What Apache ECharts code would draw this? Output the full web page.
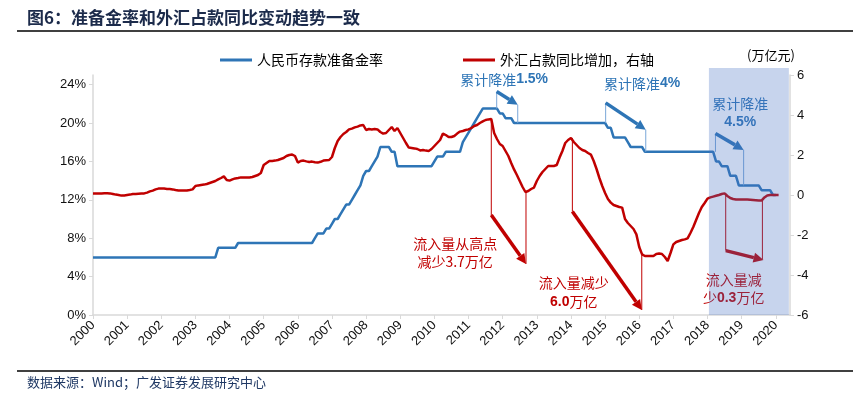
<!DOCTYPE html>
<html>
<head>
	<meta charset="utf-8">
	<title>准备金率和外汇占款</title>
	<script src="https://cdn.jsdelivr.net/npm/echarts@6/dist/echarts.min.js"></script>
	<style>
		html, body { margin: 0; padding: 0; background: #fff; }
		#main { width: 866px; height: 396px; }
	</style>
</head>
<body>
	<div id="main"></div>
<script type="text/javascript">
	// 横轴刻度（年），月度数据从2000年1月开始
	var years = ['2000', '2001', '2002', '2003', '2004', '2005', '2006', '2007', '2008', '2009', '2010',
		'2011', '2012', '2013', '2014', '2015', '2016', '2017', '2018', '2019', '2020'];
	var leftTicks = [0, 4, 8, 12, 16, 20, 24];

	// 人民币存款准备金率（%），左轴
	var rrr = [
		6, 6, 6, 6, 6, 6, 6, 6, 6, 6, 6, 6,
		6, 6, 6, 6, 6, 6, 6, 6, 6, 6, 6, 6,
		6, 6, 6, 6, 6, 6, 6, 6, 6, 6, 6, 6,
		6, 6, 6, 6, 6, 6, 6, 6, 7, 7, 7, 7,
		7, 7, 7, 7.5, 7.5, 7.5, 7.5, 7.5, 7.5, 7.5, 7.5, 7.5,
		7.5, 7.5, 7.5, 7.5, 7.5, 7.5, 7.5, 7.5, 7.5, 7.5, 7.5, 7.5,
		7.5, 7.5, 7.5, 7.5, 7.5, 7.5, 8, 8.5, 8.5, 8.5, 9, 9,
		9.5, 10, 10, 10.5, 11, 11.5, 11.5, 12, 12.5, 13, 13.5, 14.5,
		15, 15, 15.5, 16, 16.5, 17.5, 17.5, 17.5, 17.5, 17, 17, 15.5,
		15.5, 15.5, 15.5, 15.5, 15.5, 15.5, 15.5, 15.5, 15.5, 15.5, 15.5, 15.5,
		16, 16.5, 16.5, 16.5, 17, 17, 17, 17, 17, 17, 18, 18.5,
		19, 19.5, 20, 20.5, 21, 21.5, 21.5, 21.5, 21.5, 21.5, 21.5, 21,
		21, 20.5, 20.5, 20.5, 20, 20, 20, 20, 20, 20, 20, 20,
		20, 20, 20, 20, 20, 20, 20, 20, 20, 20, 20, 20,
		20, 20, 20, 20, 20, 20, 20, 20, 20, 20, 20, 20,
		20, 19.5, 19.5, 18.5, 18.5, 18.5, 18.5, 18.5, 18, 17.5, 17.5, 17.5,
		17.5, 17.5, 17, 17, 17, 17, 17, 17, 17, 17, 17, 17,
		17, 17, 17, 17, 17, 17, 17, 17, 17, 17, 17, 17,
		17, 17, 17, 16, 16, 15.5, 15.5, 15.5, 14.5, 14.5, 14.5, 13.5,
		13.5, 13.5, 13.5, 13.5, 13.5, 13.5, 13.5, 13, 13, 13, 13, 12.5,
		12.5
	];

	// 外汇占款同比增加（万亿元），右轴
	var fxChange = [
		0.08, 0.08, 0.08, 0.08, 0.09, 0.09, 0.08, 0.05, 0.02, 0.0, -0.03, -0.02,
		0.0, 0.02, 0.05, 0.05, 0.06, 0.07, 0.08, 0.12, 0.18, 0.22, 0.28, 0.32,
		0.33, 0.32, 0.3, 0.3, 0.28, 0.25, 0.23, 0.23, 0.22, 0.23, 0.25, 0.28,
		0.45, 0.48, 0.5, 0.52, 0.55, 0.6, 0.65, 0.7, 0.78, 0.85, 0.93, 0.75,
		0.72, 0.78, 0.83, 0.85, 0.88, 0.88, 0.87, 0.88, 0.9, 0.95, 1.0, 1.1,
		1.5, 1.6, 1.7, 1.7, 1.72, 1.75, 1.8, 1.85, 1.95, 2.0, 2.02, 1.95,
		1.62, 1.7, 1.72, 1.68, 1.65, 1.67, 1.64, 1.62, 1.66, 1.72, 1.74, 1.75,
		1.9, 2.35, 2.7, 2.9, 3.05, 3.15, 3.28, 3.32, 3.38, 3.42, 3.48, 3.5,
		3.25, 3.3, 3.28, 3.3, 3.28, 3.15, 3.07, 3.1, 3.25, 3.4, 3.2, 3.35,
		3.1, 2.85, 2.6, 2.37, 2.35, 2.33, 2.3, 2.23, 2.25, 2.22, 2.2, 2.3,
		2.45, 2.6, 2.75, 3.07, 3.0, 2.9, 2.9, 2.95, 3.07, 3.17, 3.2, 3.25,
		3.28, 3.35, 3.45, 3.5, 3.6, 3.68, 3.75, 3.78, 3.8, 3.1, 2.8, 2.55,
		2.45, 2.2, 1.95, 1.6, 1.28, 1.0, 0.7, 0.4, 0.15, 0.2, 0.3, 0.37,
		0.7, 0.95, 1.15, 1.3, 1.45, 1.45, 1.45, 1.5, 1.87, 2.2, 2.6, 2.75,
		2.85, 2.65, 2.5, 2.35, 2.25, 2.2, 2.1, 2.02, 1.7, 1.3, 0.85, 0.45,
		0.1, -0.2, -0.38, -0.5, -0.55, -0.6, -0.63, -1.2, -1.4, -1.55, -1.7, -1.97,
		-2.6, -2.97, -3.05, -3.05, -3.05, -3.05, -2.95, -2.93, -2.95, -3.1, -3.3, -2.9,
		-2.47, -2.35, -2.3, -2.25, -2.22, -2.17, -1.9, -1.6, -1.25, -0.9, -0.6, -0.4,
		-0.18, -0.12, -0.08, -0.04, 0.0, 0.05, 0.08, -0.05, -0.15, -0.2, -0.22, -0.22,
		-0.22, -0.22, -0.23, -0.24, -0.25, -0.26, -0.27, -0.28, -0.12, -0.02, 0.0, 0.0,
		0.0, 0.0
	];

	var BLUE = '#2e75b6';
	var RED = '#c00000';
	var CJK = '"Noto Sans CJK SC", sans-serif';
	var NUM = '"Liberation Sans", Arial, sans-serif';

	var xTicks = years.map(function(y, i) { return i * 12; });

	var chart = echarts.init(document.getElementById('main'));

	var option = {
		animation: false,
		backgroundColor: '#fff',
		grid: { left: 93, right: 76, top: 75, bottom: 81 },
		legend: {
			left: 215,
			top: 48,
			icon: 'rect',
			itemWidth: 32,
			itemHeight: 3,
			itemGap: 80,
			textStyle: { fontSize: 14, color: '#000', fontFamily: CJK, padding: [0, 0, 0, 0] },
			data: ['人民币存款准备金率', '外汇占款同比增加，右轴']
		},
		xAxis: {
			type: 'value',
			min: 0,
			max: 245,
			interval: 12,
			splitLine: { show: false },
			axisLine: { lineStyle: { color: '#d9d9d9', width: 1.5 } },
			axisTick: { length: 4, customValues: xTicks, lineStyle: { color: '#d9d9d9' } },
			axisLabel: {
				customValues: xTicks,
				rotate: 45,
				margin: 8,
				fontSize: 13,
				color: '#111',
				fontFamily: NUM,
				formatter: function(v) {
					return years[v / 12] || '';
				}
			}
		},
		yAxis: [{
			type: 'value',
			position: 'left',
			min: 0,
			max: 25,
			interval: 4,
			splitLine: { show: false },
			axisLine: { show: true, lineStyle: { color: '#d9d9d9', width: 1.5 } },
			axisTick: { show: true, length: 4, customValues: leftTicks, lineStyle: { color: '#d9d9d9' } },
			axisLabel: {
				customValues: leftTicks,
				margin: 7,
				fontSize: 13,
				color: '#111',
				fontFamily: NUM,
				formatter: function(v) {
					return v > 24 ? '' : v + '%';
				}
			}
		}, {
			type: 'value',
			position: 'right',
			min: -6,
			max: 6,
			interval: 2,
			splitLine: { show: false },
			axisLine: { show: true, lineStyle: { color: '#d9d9d9', width: 1.5 } },
			axisTick: { show: true, length: 4, lineStyle: { color: '#d9d9d9' } },
			axisLabel: { margin: 7, fontSize: 13, color: '#111', fontFamily: NUM }
		}],
		series: [{
			name: '人民币存款准备金率',
			type: 'line',
			yAxisIndex: 0,
			symbol: 'none',
			lineStyle: { color: BLUE, width: 2.5 },
			itemStyle: { color: BLUE },
			data: rrr.map(function(v, i) { return [i, v]; })
		}, {
			name: '外汇占款同比增加，右轴',
			type: 'line',
			yAxisIndex: 1,
			symbol: 'none',
			lineStyle: { color: RED, width: 2.5 },
			itemStyle: { color: RED },
			data: fxChange.map(function(v, i) { return [i, v]; })
		}]
	};
	chart.setOption(option);

	// 标注：[轴, 月序号, 值...]，坐标都按数据坐标换算
	var thinLines = [
		[0, 141.9, 23.27, 21.5], [0, 149.3, 21.9, 20], [0, 180.2, 22.1, 20], [0, 194.3, 19.3, 17],
		[0, 218.8, 18.9, 17], [0, 228.7, 17.2, 13.5],
		[1, 140, 3.8, -1.0], [1, 152.2, 0.15, -3.45], [1, 168.5, 2.85, -0.83], [1, 192.9, -2.97, -5.75],
		[1, 222.4, 0.08, -2.78], [1, 235.3, -0.28, -3.2]
	];
	var arrows = [
		[0, 141.9, 23.27, 149.3, 21.9], [0, 180.2, 22.1, 194.3, 19.3], [0, 218.8, 18.9, 228.7, 17.2],
		[1, 140, -1.0, 152.2, -3.45], [1, 168.5, -0.83, 192.9, -5.75], [1, 222.4, -2.78, 235.7, -3.25]
	];
	var notes = [
		[0, 144.5, 24.52, '累计降准{b|1.5%}', BLUE],
		[0, 193.0, 24.1, '累计降准{b|4%}', BLUE],
		[0, 227.5, 22.0, '累计降准', BLUE],
		[0, 227.5, 20.04, '{b|4.5%}', BLUE],
		[1, 127.3, -2.45, '流入量从高点', RED],
		[1, 127.3, -3.35, '减少3.7万亿', RED],
		[1, 169, -4.4, '流入量减少', RED],
		[1, 169, -5.35, '{b|6.0}万亿', RED],
		[1, 225.2, -4.25, '流入量减', RED],
		[1, 225.2, -5.15, '少{b|0.3}万亿', RED]
	];

	function pt(axis, x, y) {
		return chart.convertToPixel({ xAxisIndex: 0, yAxisIndex: axis }, [x, y]);
	}

	var g = [];
	thinLines.forEach(function(d) {
		var a = pt(d[0], d[1], d[2]), b = pt(d[0], d[1], d[3]);
		g.push({
			type: 'line', z: 20, silent: true,
			shape: { x1: a[0], y1: a[1], x2: b[0], y2: b[1] },
			style: { stroke: d[0] === 0 ? '#7aa7d8' : RED, lineWidth: 1 }
		});
	});
	arrows.forEach(function(d) {
		var p0 = pt(d[0], d[1], d[2]), p1 = pt(d[0], d[3], d[4]);
		var color = d[0] === 0 ? BLUE : RED;
		var ang = Math.atan2(p1[1] - p0[1], p1[0] - p0[0]);
		var L = 10, W = 5;
		var bx = p1[0] - L * Math.cos(ang), by = p1[1] - L * Math.sin(ang);
		var nx = -Math.sin(ang) * W, ny = Math.cos(ang) * W;
		g.push({
			type: 'line', z: 21, silent: true,
			shape: { x1: p0[0], y1: p0[1], x2: bx, y2: by },
			style: { stroke: color, lineWidth: 3.5 }
		});
		g.push({
			type: 'polygon', z: 21, silent: true,
			shape: { points: [[p1[0], p1[1]], [bx + nx, by + ny], [bx - nx, by - ny]] },
			style: { fill: color }
		});
	});
	notes.forEach(function(d) {
		var p = pt(d[0], d[1], d[2]);
		g.push({
			type: 'text', z: 22, silent: true,
			x: p[0], y: p[1],
			style: {
				text: d[3], fill: d[4], fontSize: 14, fontFamily: CJK,
				align: 'center', verticalAlign: 'middle',
				rich: { b: { fontSize: 14, fontWeight: 'bold', fontFamily: NUM, fill: d[4] } }
			}
		});
	});

	// 2018年以来的阴影区
	var s0 = pt(1, 216.5, 6.35), s1 = pt(1, 244.6, -6);
	g.push({
		type: 'rect', z: 100, silent: true,
		shape: { x: s0[0], y: s0[1], width: s1[0] - s0[0], height: s1[1] - s0[1] },
		style: { fill: 'rgba(68,114,196,0.3)' }
	});

	// 标题、分隔线、单位、来源
	g.push({
		type: 'text', x: 27, y: 18,
		style: { text: '图6：准备金率和外汇占款同比变动趋势一致', fontSize: 17, fontWeight: 'bold', fontFamily: CJK, fill: '#1c2b4b', verticalAlign: 'middle' }
	});
	g.push({ type: 'line', shape: { x1: 17, y1: 31, x2: 853, y2: 31 }, style: { stroke: '#000', lineWidth: 1.5 } });
	g.push({ type: 'line', shape: { x1: 17, y1: 371, x2: 853, y2: 371 }, style: { stroke: '#000', lineWidth: 1.5 } });
	g.push({
		type: 'text', x: 771, y: 55,
		style: { text: '(万亿元)', fontSize: 13, fontFamily: CJK, fill: '#000', align: 'center', verticalAlign: 'middle' }
	});
	g.push({
		type: 'text', x: 27, y: 382,
		style: { text: '数据来源：Wind；广发证券发展研究中心', fontSize: 13, fontFamily: CJK, fill: '#1f3864', verticalAlign: 'middle' }
	});

	chart.setOption({ graphic: g });
</script>
</body>
</html>
